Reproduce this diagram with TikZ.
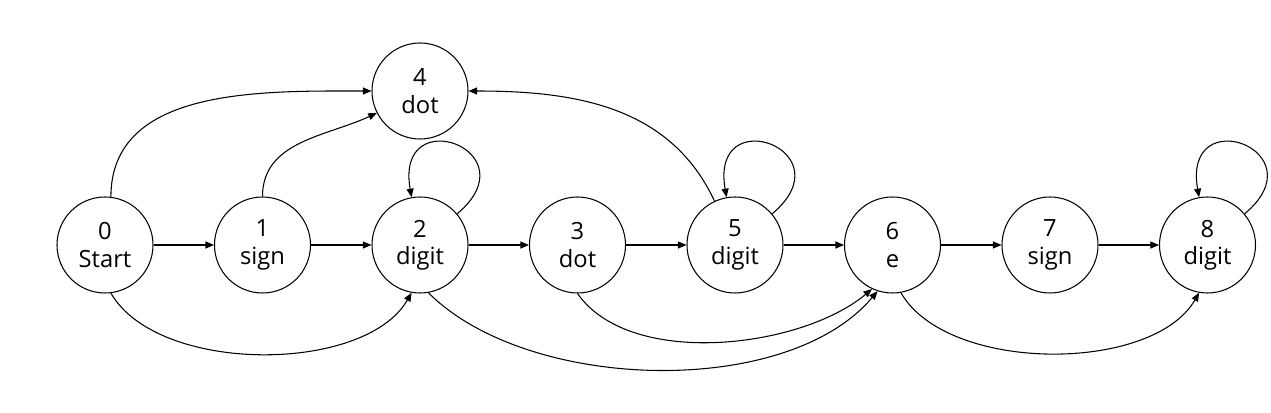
\documentclass[tikz,border=0pt]{standalone}
\usepackage{fontspec}
\setmainfont{Open Sans}
\usepackage{tikz}
\usetikzlibrary{positioning}
\usetikzlibrary{arrows.meta}

\begin{document}
\begin{tikzpicture} [
    every node/.style = {circle, draw, line width=0.6pt, minimum size=1.92cm, inner sep=0pt,
        align=center, font=\fontsize{13.5}{15.5}\selectfont},
    node distance=3.15cm, on grid,
    every path/.style = {line width=0.6pt},
    arr/.style = {-{Triangle[length=1.7mm,width=1.4mm]}}
]
    \useasboundingbox (0,0) rectangle (25.42,8.26);
    \node (n0) at (2.1,3.36) {0\\Start};
    \node (n1) [right=of n0] {1\\sign};
    \node (n2) [right=of n1] {2\\digit};
    \node (n3) [right=of n2] {3\\dot};
    \node (n5) [right=of n3] {5\\digit};
    \node (n6) [right=of n5] {6\\e};
    \node (n7) [right=of n6] {7\\sign};
    \node (n8) [right=of n7] {8\\digit};
    \node (n4) [above=3.08cm of n2] {4\\dot};

    % straight transitions
    \foreach \a/\b in {n0/n1, n1/n2, n2/n3, n3/n5, n5/n6, n6/n7, n7/n8}
        \draw[arr] (\a) -- (\b);

    % arcs over the top
    \draw[arr] (n0.83) to[out=90, in=180] (n4.west);
    \draw[arr] (n1.90) to[out=90, in=205] (n4.207);
    \draw[arr] (n5.115) to[out=115, in=0] (n4.east);

    % arcs under the bottom
    \draw[arr] (n0.-83) to[out=-60, in=-120, looseness=0.8] (n2.-100);
    \draw[arr] (n2.-80) to[out=-45, in=-130, looseness=0.8] (n6.-108);
    \draw[arr] (n3.-90) to[out=-55, in=-140, looseness=0.8] (n6.-115);
    \draw[arr] (n6.-80) to[out=-60, in=-120, looseness=0.8] (n8.-100);

    % self loops
    \foreach \s in {n2, n5, n8}
        \draw[arr] (\s.40) to[out=40, in=100, looseness=5.2] (\s.100);
\end{tikzpicture}
\end{document}
